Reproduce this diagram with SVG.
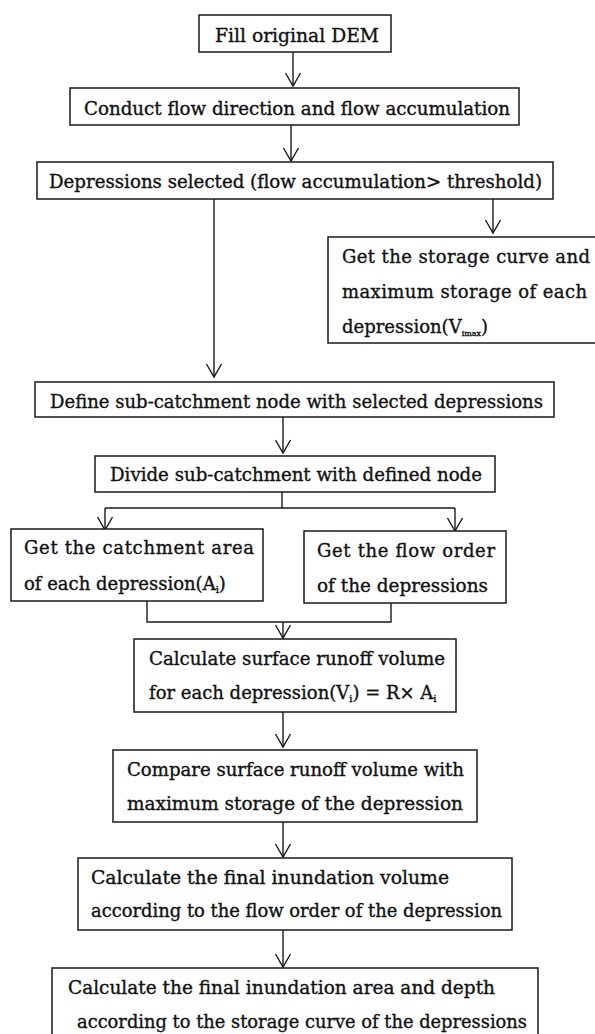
<svg xmlns="http://www.w3.org/2000/svg" width="595" height="1034" viewBox="0 0 595 1034">
<style>
.box{fill:#fff;stroke:#1a1a1a;stroke-width:1.5}
.t{font-family:"DejaVu Serif","Liberation Serif",serif;font-size:18px;fill:#111;stroke:#111;stroke-width:0.35}
.c{fill:none;stroke:#1a1a1a;stroke-width:1.4}
.sub{font-size:10px}
.sub2{font-size:8px}
</style>
<defs>
<marker id="ah" markerUnits="userSpaceOnUse" markerWidth="30" markerHeight="30" refX="0" refY="0" orient="auto" overflow="visible">
<path d="M-13,-7.5 L0,0 L-13,7.5" fill="none" stroke="#1a1a1a" stroke-width="1.4"/>
</marker>
</defs>
<rect width="595" height="1034" fill="#fff"/>
<g id="connectors">
<line class="c" x1="293" y1="52" x2="293" y2="86" marker-end="url(#ah)"/>
<line class="c" x1="291" y1="125" x2="291" y2="161" marker-end="url(#ah)"/>
<line class="c" x1="214" y1="199" x2="214" y2="377" marker-end="url(#ah)"/>
<line class="c" x1="493" y1="199" x2="493" y2="233" marker-end="url(#ah)"/>
<line class="c" x1="283" y1="417" x2="283" y2="453" marker-end="url(#ah)"/>
<polyline class="c" points="282,492 282,508"/>
<polyline class="c" points="105,508 455,508"/>
<line class="c" x1="105" y1="508" x2="105" y2="530" marker-end="url(#ah)"/>
<line class="c" x1="455" y1="508" x2="455" y2="531" marker-end="url(#ah)"/>
<polyline class="c" points="147,601 147,622 391,622 391,603"/>
<line class="c" x1="283" y1="622" x2="283" y2="638" marker-end="url(#ah)"/>
<line class="c" x1="283" y1="712" x2="283" y2="747" marker-end="url(#ah)"/>
<line class="c" x1="283" y1="822" x2="283" y2="857" marker-end="url(#ah)"/>
<line class="c" x1="283" y1="930" x2="283" y2="967" marker-end="url(#ah)"/>
</g>
<g id="n1">
<rect class="box" x="199" y="15" width="192" height="37"/>
<text class="t" x="215" y="42" textLength="164" lengthAdjust="spacingAndGlyphs">Fill original DEM</text>
</g>
<g id="n2">
<rect class="box" x="70" y="88" width="449" height="37"/>
<text class="t" x="84" y="115" textLength="426" lengthAdjust="spacingAndGlyphs">Conduct flow direction and flow accumulation</text>
</g>
<g id="n3">
<rect class="box" x="37" y="162" width="516" height="37"/>
<text class="t" x="49" y="188" textLength="493" lengthAdjust="spacingAndGlyphs">Depressions selected (flow accumulation&gt; threshold)</text>
</g>
<g id="n4">
<rect class="box" x="328" y="237" width="280" height="106"/>
<text class="t" x="342" y="263" textLength="248" lengthAdjust="spacing">Get the storage curve and</text>
<text class="t" x="342" y="298" textLength="245" lengthAdjust="spacing">maximum storage of each</text>
<text class="t" x="342" y="333">depression(V<tspan class="sub2" dy="3">imax</tspan><tspan dy="-3">)</tspan></text>
</g>
<g id="n5">
<rect class="box" x="35" y="382" width="519" height="35"/>
<text class="t" x="50" y="408" textLength="493" lengthAdjust="spacingAndGlyphs">Define sub-catchment node with selected depressions</text>
</g>
<g id="n6">
<rect class="box" x="95" y="456" width="400" height="36"/>
<text class="t" x="110" y="481" textLength="372" lengthAdjust="spacingAndGlyphs">Divide sub-catchment with defined node</text>
</g>
<g id="n7">
<rect class="box" x="11" y="529" width="252" height="72"/>
<text class="t" x="24" y="554" textLength="230" lengthAdjust="spacing">Get the catchment area</text>
<text class="t" x="24" y="590">of each depression(A<tspan class="sub" dy="3">i</tspan><tspan dy="-3">)</tspan></text>
</g>
<g id="n8">
<rect class="box" x="304" y="531" width="202" height="72"/>
<text class="t" x="317" y="557" textLength="178" lengthAdjust="spacing">Get the flow order</text>
<text class="t" x="317" y="592" textLength="171" lengthAdjust="spacingAndGlyphs">of the depressions</text>
</g>
<g id="n9">
<rect class="box" x="134" y="639" width="322" height="73"/>
<text class="t" x="149" y="665" textLength="296" lengthAdjust="spacingAndGlyphs">Calculate surface runoff volume</text>
<text class="t" x="149" y="699">for each depression(V<tspan class="sub" dy="3">i</tspan><tspan dy="-3">) = R× A</tspan><tspan class="sub" dy="3">i</tspan></text>
</g>
<g id="n10">
<rect class="box" x="113" y="750" width="364" height="72"/>
<text class="t" x="127" y="776" textLength="337" lengthAdjust="spacingAndGlyphs">Compare surface runoff volume with</text>
<text class="t" x="127" y="810" textLength="336" lengthAdjust="spacingAndGlyphs">maximum storage of the depression</text>
</g>
<g id="n11">
<rect class="box" x="78" y="858" width="434" height="72"/>
<text class="t" x="91" y="884" textLength="358" lengthAdjust="spacingAndGlyphs">Calculate the final inundation volume</text>
<text class="t" x="91" y="917" textLength="411" lengthAdjust="spacingAndGlyphs">according to the flow order of the depression</text>
</g>
<g id="n12">
<rect class="box" x="52" y="968" width="486" height="80"/>
<text class="t" x="68" y="994" textLength="427" lengthAdjust="spacingAndGlyphs">Calculate the final inundation area and depth</text>
<text class="t" x="77" y="1028" textLength="450" lengthAdjust="spacingAndGlyphs">according to the storage curve of the depressions</text>
</g>
</svg>
